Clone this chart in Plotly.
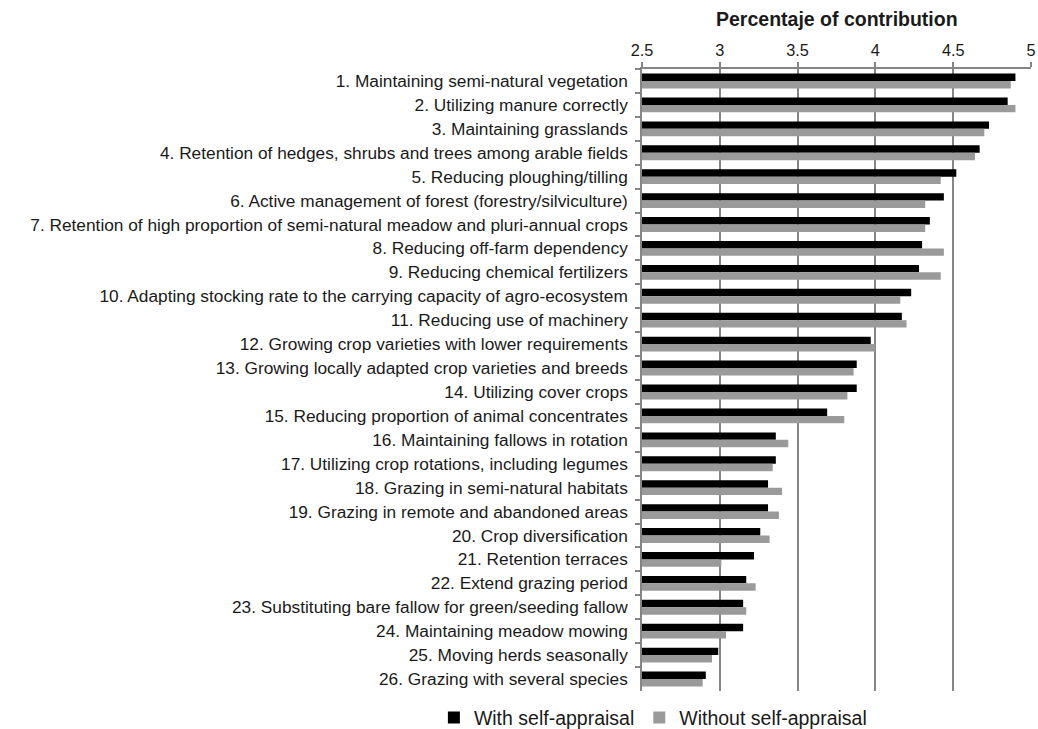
import plotly.graph_objects as go

categories = [
    "1. Maintaining semi-natural vegetation",
    "2. Utilizing manure correctly",
    "3. Maintaining grasslands",
    "4. Retention of hedges, shrubs and trees among arable fields",
    "5. Reducing ploughing/tilling",
    "6. Active management of forest (forestry/silviculture)",
    "7. Retention of high proportion of semi-natural meadow and pluri-annual crops",
    "8. Reducing off-farm dependency",
    "9. Reducing chemical fertilizers",
    "10. Adapting stocking rate to the carrying capacity of agro-ecosystem",
    "11. Reducing use of machinery",
    "12. Growing crop varieties with lower requirements",
    "13. Growing locally adapted crop varieties and breeds",
    "14. Utilizing cover crops",
    "15. Reducing proportion of animal concentrates",
    "16. Maintaining fallows in rotation",
    "17. Utilizing crop rotations, including legumes",
    "18. Grazing in semi-natural habitats",
    "19. Grazing in remote and abandoned areas",
    "20. Crop diversification",
    "21. Retention terraces",
    "22. Extend grazing period",
    "23. Substituting bare fallow for green/seeding fallow",
    "24. Maintaining meadow mowing",
    "25. Moving herds seasonally",
    "26. Grazing with several species",
]

with_self = [4.90, 4.85, 4.73, 4.67, 4.52, 4.44, 4.35, 4.30, 4.28, 4.23, 4.17, 3.97, 3.88,
             3.88, 3.69, 3.36, 3.36, 3.31, 3.31, 3.26, 3.22, 3.17, 3.15, 3.15, 2.99, 2.91]
without_self = [4.87, 4.90, 4.70, 4.64, 4.42, 4.32, 4.32, 4.44, 4.42, 4.16, 4.20, 4.00, 3.86,
                3.82, 3.80, 3.44, 3.34, 3.40, 3.38, 3.32, 3.01, 3.23, 3.17, 3.04, 2.95, 2.89]

x_ticks = [2.5, 3, 3.5, 4, 4.5, 5]
x_ticklabels = ["2.5", "3", "3.5", "4", "4.5", "5"]
axis_title = "Percentaje of contribution"

FONT = "Liberation Sans, Arial, Helvetica, sans-serif"

fig = go.Figure()
fig.add_trace(go.Bar(
    y=categories, x=with_self, orientation="h",
    name="With self-appraisal", marker=dict(color="#000000", line=dict(width=0)),
))
fig.add_trace(go.Bar(
    y=categories, x=without_self, orientation="h",
    name="Without self-appraisal", marker=dict(color="#9a9a9a", line=dict(width=0)),
))

fig.update_layout(
    width=1038, height=729,
    margin=dict(l=642, r=7, t=69, b=38, pad=0, autoexpand=False),
    paper_bgcolor="white", plot_bgcolor="white",
    barmode="group", bargap=0.38, bargroupgap=0,
    font=dict(family=FONT, size=15, color="#1a1a1a"),
    legend=dict(
        orientation="h", x=-0.535, xanchor="left", y=-0.043, yanchor="middle",
        font=dict(size=19.5, color="#1a1a1a"), traceorder="normal",
        itemwidth=30, bgcolor="rgba(0,0,0,0)",
    ),
    showlegend=True,
    annotations=[dict(
        text="<b>" + axis_title + "</b>", xref="paper", yref="paper",
        x=0.5, y=1 + (69 - 19) / 622, xanchor="center", yanchor="middle",
        showarrow=False, font=dict(size=19.5, color="#1a1a1a"),
    )],
)

fig.update_xaxes(
    side="top", range=[2.5, 5], tickvals=x_ticks, ticktext=x_ticklabels,
    showgrid=True, gridcolor="#858585", gridwidth=1.5,
    showline=True, linecolor="#858585", linewidth=1.5,
    ticks="outside", ticklen=5, tickcolor="#858585", tickwidth=1.5,
    tickfont=dict(size=16.3, color="#1a1a1a"),
    zeroline=False,
)
fig.update_yaxes(
    autorange="reversed", type="category",
    showline=True, linecolor="#858585", linewidth=1.5,
    ticks="outside", ticklen=5, tickcolor="#858585", tickwidth=1.5,
    tickson="boundaries", showgrid=False,
    tickfont=dict(size=17.3, color="#1a1a1a"),
    ticklabelstandoff=9,
)

fig.write_html("out.html")
